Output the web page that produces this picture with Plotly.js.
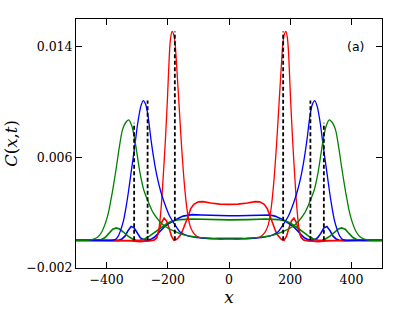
<!DOCTYPE html>
<html>
<head>
<meta charset="utf-8">
<script src="https://cdn.plot.ly/plotly-3.0.1.min.js"></script>
<style>html,body{margin:0;padding:0;background:#fff;}#chart{width:415px;height:312px;}</style>
</head>
<body>
<div id="chart"></div>
<script>
// ---- data ----
// smooth peak curves
const redPeakX = [-500,-400,-320,-270,-250,-240,-233,-228,-222,-215,-208,-201,-195,-191,-186,-181,-176,-171,-163,-155,-146,-137,-128,-118,-105,-90,-60,-30,0,30,60,90,105,118,128,137,146,155,163,171,176,181,186,191,195,201,208,215,222,228,233,240,250,270,320,400,500];
const redPeakY = [0,0,0,-0.00005,0,0.0001,0.0004,0.001,0.0023,0.0046,0.0072,0.0103,0.0134,0.0146,0.0151,0.0149,0.0142,0.0126,0.0097,0.0068,0.0041,0.0022,0.0011,0.0006,0.0003,0.00017,0.00015,0.00015,0.00015,0.00015,0.00015,0.00017,0.0003,0.0006,0.0011,0.0022,0.0041,0.0068,0.0097,0.0126,0.0142,0.0149,0.0151,0.0146,0.0134,0.0103,0.0072,0.0046,0.0023,0.001,0.0004,0.0001,0,-0.00005,0,0,0];

const bluePeakX = [-500,-420,-390,-372,-362,-353,-344,-336,-328,-320,-308,-298,-288,-280,-272,-264,-255,-245,-235,-224,-211,-195,-176,-160,-143,-120,-80,-40,0,40,80,120,143,160,176,195,211,224,235,245,255,264,272,280,288,298,308,320,328,336,344,353,362,372,390,420,500];
const bluePeakY = [0,0,0,0.00005,0.0003,0.0008,0.0015,0.00245,0.0036,0.0049,0.0068,0.0085,0.0097,0.0101,0.0098,0.0089,0.0073,0.0058,0.0046,0.0036,0.0027,0.0018,0.0011,0.0006,0.0004,0.00025,0.00015,0.0001,0.0001,0.0001,0.00015,0.00025,0.0004,0.0006,0.0011,0.0018,0.0027,0.0036,0.0046,0.0058,0.0073,0.0089,0.0098,0.0101,0.0097,0.0085,0.0068,0.0049,0.0036,0.00245,0.0015,0.0008,0.0003,0.00005,0,0,0];

const greenPeakX = [-500,-470,-448,-430,-416,-403,-394,-386,-378,-368,-358,-348,-338,-328,-318,-308,-291,-278,-266,-248,-228,-208,-183,-148,-98,-50,0,50,98,148,183,208,228,248,266,278,291,308,318,328,338,348,358,368,378,386,394,403,416,430,448,470,500];
const greenPeakY = [0,0,0.00005,0.00022,0.0006,0.0013,0.002,0.0029,0.0039,0.0053,0.0068,0.008,0.0085,0.0087,0.0083,0.0073,0.0049,0.0036,0.0029,0.002,0.0014,0.001,0.0007,0.0004,0.00022,0.00012,0.0001,0.00012,0.00022,0.0004,0.0007,0.001,0.0014,0.002,0.0029,0.0036,0.0049,0.0073,0.0083,0.0087,0.0085,0.008,0.0068,0.0053,0.0039,0.0029,0.002,0.0013,0.0006,0.00022,0.00005,0,0];

// noisy plateau curves
const redNoisyX = [-500,-400,-320,-290,-260,-245,-236,-228,-220,-212,-204,-196,-188,-180,-172,-165,-158,-150,-142,-134,-125,-115,-100,-85,-60,-30,0,30,60,85,100,115,125,134,142,150,158,165,172,180,188,196,204,212,220,228,236,245,260,290,320,400,500];
const redNoisyY = [0,0,-0.00005,-0.0001,-0.00005,0,0.0002,0.0007,0.0013,0.0016,0.0014,0.0009,0.0003,0,0.00005,0.0002,0.0004,0.0008,0.0012,0.0017,0.0023,0.0026,0.00278,0.0028,0.0027,0.00262,0.0026,0.00262,0.0027,0.0028,0.00278,0.0026,0.0023,0.0017,0.0012,0.0008,0.0004,0.0002,0.00005,0,0.0003,0.0009,0.0014,0.0016,0.0013,0.0007,0.0002,0,-0.00005,-0.0001,-0.00005,0,0];

const blueNoisyX = [-500,-420,-380,-360,-350,-340,-330,-320,-310,-300,-290,-280,-266,-254,-245,-236,-228,-219,-210,-200,-190,-178,-165,-150,-135,-120,-90,-60,-30,0,30,60,90,120,135,150,165,178,190,200,210,219,228,236,245,254,266,280,290,300,310,320,330,340,350,360,380,420,500];
const blueNoisyY = [0,0,-0.00003,0,0.0001,0.0003,0.0007,0.001,0.0009,0.0005,0.0002,0.00005,0,0.0001,0.0002,0.0004,0.0006,0.0008,0.001,0.00118,0.0013,0.00148,0.0016,0.00175,0.00183,0.00186,0.00183,0.0018,0.00178,0.00178,0.00178,0.0018,0.00183,0.00186,0.00183,0.00175,0.0016,0.00148,0.0013,0.00118,0.001,0.0008,0.0006,0.0004,0.0002,0.0001,0,0.00005,0.0002,0.0005,0.0009,0.001,0.0007,0.0003,0.0001,0,-0.00003,0,0];

const greenNoisyX = [-500,-440,-420,-405,-392,-380,-368,-358,-345,-330,-315,-303,-290,-275,-260,-245,-230,-215,-200,-185,-160,-120,-60,0,60,120,160,185,200,215,230,245,260,275,290,303,315,330,345,358,368,380,392,405,420,440,500];
const greenNoisyY = [0,0,0.00003,0.0002,0.0005,0.0008,0.0009,0.00082,0.0006,0.0003,0.0001,0,0.00002,0.00012,0.0003,0.00055,0.0008,0.00105,0.00125,0.0014,0.0015,0.00154,0.0015,0.00148,0.0015,0.00154,0.0015,0.0014,0.00125,0.00105,0.0008,0.00055,0.0003,0.00012,0.00002,0,0.0001,0.0003,0.0006,0.00082,0.0009,0.0008,0.0005,0.0002,0.00003,0,0];

// dashed light-cone markers
const dashX = [-310,-266,-177,177,266,310];
const dashTop = [0.0085,0.0101,0.0151,0.0151,0.0101,0.0085];

// axis ticks
const xTicks = [-400,-200,0,200,400];
const xTickText = ['\u2212400','\u2212200','0','200','400'];
const yTicks = [-0.002,0.006,0.014];
const yTickText = ['\u22120.002','0.006','0.014'];

const RED = '#ff0000', BLUE = '#0000ff', GREEN = '#008000';

function line(x, y, color, w, shape) {
  return {x: x, y: y, type: 'scatter', mode: 'lines', hoverinfo: 'skip',
          line: {color: color, width: w, shape: shape || 'spline', smoothing: 0.8}};
}

const traces = [
  line(redNoisyX, redNoisyY, RED, 1.6, 'linear'),
  line(blueNoisyX, blueNoisyY, BLUE, 1.6, 'linear'),
  line(greenNoisyX, greenNoisyY, GREEN, 1.6, 'linear'),
  line(redPeakX, redPeakY, RED, 1.3),
  line(bluePeakX, bluePeakY, BLUE, 1.3),
  line(greenPeakX, greenPeakY, GREEN, 1.3)
];
for (let i = 0; i < dashX.length; i++) {
  traces.push({x: [dashX[i], dashX[i]], y: [0, dashTop[i]], type: 'scatter', mode: 'lines',
    hoverinfo: 'skip', line: {color: '#000', width: 1.8, dash: '4px,2.5px'}});
}

const tickFont = {family: 'DejaVu Serif', size: 12.5, color: '#000'};
const layout = {
  width: 415, height: 312,
  margin: {l: 76, r: 33, t: 19, b: 44, pad: 0},
  paper_bgcolor: '#fff', plot_bgcolor: '#fff',
  showlegend: false,
  xaxis: {
    range: [-500, 500], tickvals: xTicks, ticktext: xTickText,
    ticks: 'inside', ticklen: 6, tickwidth: 1, tickcolor: '#000',
    showline: true, linecolor: '#000', linewidth: 1, mirror: 'allticks',
    showgrid: false, zeroline: false, tickfont: tickFont,
    title: {text: '<i>x</i>', font: {family: 'DejaVu Serif', size: 17, color: '#000'}, standoff: 5}
  },
  yaxis: {
    range: [-0.002, 0.016], tickvals: yTicks, ticktext: yTickText,
    ticks: 'inside', ticklen: 6, tickwidth: 1, tickcolor: '#000',
    showline: true, linecolor: '#000', linewidth: 1, mirror: 'allticks',
    showgrid: false, zeroline: false, tickfont: tickFont,
    title: {text: '<i>C</i>(<i>x</i>,<i>t</i>)', font: {family: 'DejaVu Serif', size: 16.5, color: '#000'}, standoff: 4}
  },
  annotations: [{
    text: '(a)', xref: 'paper', yref: 'paper', x: 0.913, y: 0.89,
    xanchor: 'center', yanchor: 'middle', showarrow: false,
    font: {family: 'DejaVu Sans', size: 12.5, color: '#000'}
  }]
};

Plotly.newPlot('chart', traces, layout, {staticPlot: true, displayModeBar: false});
</script>
</body>
</html>
